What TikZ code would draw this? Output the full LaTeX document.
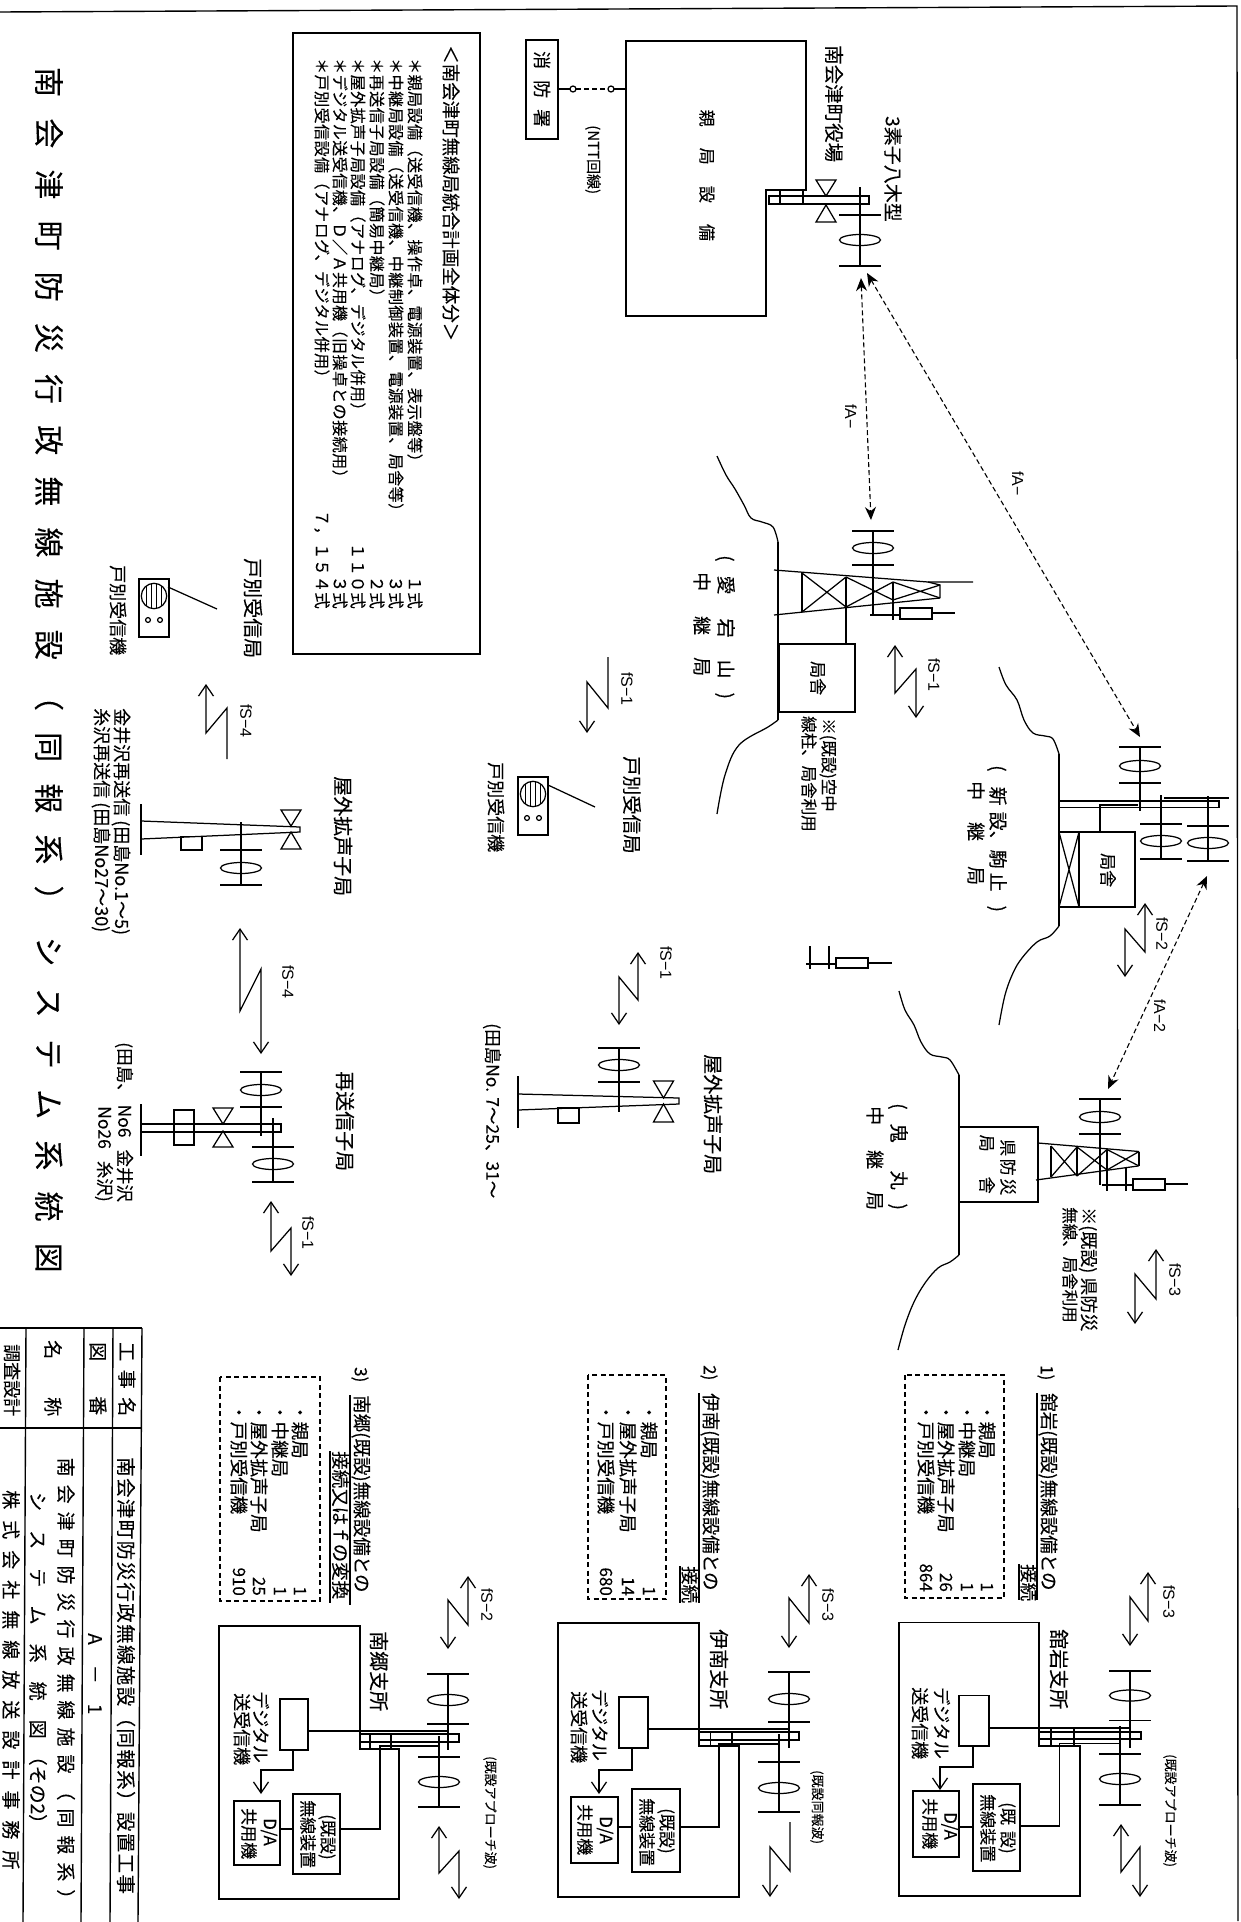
\documentclass[tikz,border=0pt]{standalone}
\usepackage{fontspec}
\setmainfont{Liberation Sans}
\newfontfamily\jp[FakeBold=0.1]{Noto Sans CJK JP}
\usetikzlibrary{arrows.meta}
\tikzset{
  lbl/.style={rotate=-90,anchor=west,inner sep=0pt,text=black},
  lblr/.style={rotate=-90,anchor=east,inner sep=0pt,text=black},
  ln/.style={draw=black,line width=1.25pt},
  hv/.style={draw=black,line width=2pt},
  zz/.style={draw=black,line width=1.25pt,>={Straight Barb[length=11pt,width=15pt]}},
  fa/.style={draw=black,line width=1.1pt,dash pattern=on 5pt off 3pt,{Stealth[length=13pt,width=11pt]}-{Stealth[length=13pt,width=11pt]}},
  dbox/.style={draw=black,line width=1.2pt,dash pattern=on 5pt off 3.5pt}
}
\newcommand\Tx[5]{\node[lbl,font=\jp\fontsize{#4}{#4}\selectfont] (#1) at (#2,#3) {#5};}
\newcommand\Txr[5]{\node[lblr,font=\jp\fontsize{#4}{#4}\selectfont] (#1) at (#2,#3) {#5};}
\newcommand\Lb[4]{\node[lbl,font=\fontsize{16}{16}\selectfont] (#1) at (#2,#3) {#4};}
\newcommand\Lsp[2]{{\addfontfeature{LetterSpace=#1}#2}}
\newcommand\Gp[1]{\hspace{#1pt}}
\newcommand\Yagi[6]{%
  \draw[ln] (#1,#2)--(#1,#3);
  \draw[ln] ({#1-21},#4)--({#1+21},#4);
  \draw[ln] (#1,#5) ellipse[x radius=20.5,y radius=5.5];
  \draw[ln] ({#1-21},#6)--({#1+21},#6);}
\newcommand\Bow[6]{%
  \draw[ln] ({#1-#6},#2)--({#1+#6},#2)--(#1,#3)--cycle;
  \draw[ln] ({#1-#6},#5)--({#1+#6},#5)--(#1,#4)--cycle;}
\newcommand\Zig[7][<->]{\draw[zz,#1] (#2,#3)--(#2,#4)--(#5,#6)--(#5,#7);}
\newcommand\Speaker[2]{%
  \draw[ln] ({#1-15},{#2-17}) rectangle ({#1+15},{#2+41});
  \draw[ln] (#1,#2) circle[radius=12.7];
  \foreach \d/\h in {-7.5/10.2,-2.5/12.4,2.5/12.4,7.5/10.2}{\draw[ln] ({#1+\d},{#2-\h})--({#1+\d},{#2+\h});}
  \draw[ln] ({#1-6},{#2+24}) circle[radius=2.4];
  \draw[ln] ({#1+6},{#2+24}) circle[radius=2.4];}
\begin{document}
\begin{tikzpicture}[x=1pt,y=-1pt]
\useasboundingbox (0,0) rectangle (1240,1922);
\fill[white] (0,0) rectangle (1240,1922);
% frame
\draw[ln,line width=1.4pt] (0,12)--(1237,6)--(1238,1921);
% title
\Tx{title}{49}{67}{30}{\Lsp{70.5}{南会津町防災行政無線施設（同報系）システム系統図}}
% legend
\draw[ln,line width=1.4pt] (293,33) rectangle (480,654);
\Tx{lg0}{451}{45}{18.5}{＜南会津町無線局統合計画全体分＞}
\Tx{lg1}{415}{58}{16}{\Lsp{3}{＊親局設備（送受信機、操作卓、電源装置、表示盤等）}}
\Tx{lg2}{396}{58}{16}{\Lsp{3}{＊中継局設備（送受信機、中継制御装置、電源装置、局舎等）}}
\Tx{lg3}{377}{58}{16}{\Lsp{3}{＊再送信子局設備（簡易中継局）}}
\Tx{lg4}{358}{58}{16}{\Lsp{3}{＊屋外拡声子局設備（アナログ、デジタル併用）}}
\Tx{lg5}{340}{58}{16}{\Lsp{3}{＊デジタル送受信機、Ｄ／Ａ共用機（旧操卓との接続用）}}
\Tx{lg6}{322}{58}{16}{\Lsp{3}{＊戸別受信設備（アナログ、デジタル併用）}}
\Txr{ln1}{415}{609}{16.5}{１式}
\Txr{ln2}{396}{609}{16.5}{３式}
\Txr{ln3}{377}{609}{16.5}{２式}
\Txr{ln4}{358}{609}{16.5}{１１０式}
\Txr{ln5}{340}{609}{16.5}{３式}
\Txr{ln6}{322}{609}{16.5}{７，１５４式}
% fire station and parent station
\draw[ln,line width=1.5pt] (526,40) rectangle (558,139);
\Tx{fire}{542}{51}{18}{\Lsp{61}{消防署}}
\coordinate (c1) at (573,89); \coordinate (c2) at (611,89);
\draw[ln] (558,89)--(570,89) (614,89)--(626,89);
\draw[ln] (c1) circle[radius=3] (c2) circle[radius=3];
\draw[ln,dash pattern=on 5pt off 3pt] (576,89)--(608,89);
\Tx{ntt}{593}{125}{15}{(NTT回線)}
\draw[ln] (626,41)--(806,41)--(806,190)--(766,190)--(766,316)--(626,316)--cycle;
\Tx{oya}{707}{109.5}{17}{\Lsp{124}{親局設備}}
\draw[ln] (769,196) rectangle (869,204);
\draw[ln] (780,190)--(780,204) (803,190)--(803,204);
\Bow{826}{180}{196}{205}{222}{10}
\Yagi{860}{187}{266}{215}{240}{266}
\Tx{tn}{834}{45}{19.5}{南会津町役場}
\Tx{ya}{893}{116}{19}{3素子八木型}
% fA links
\coordinate (a1) at (861,278); \coordinate (a2) at (871,520);
\coordinate (a3) at (867,273); \coordinate (a4) at (1140,737);
\coordinate (a5) at (1207,876); \coordinate (a6) at (1108,1089);
\draw[fa] (a1)--(a2);
\draw[fa] (a3)--(a4);
\draw[fa] (a5)--(a6);
\Lb{fa1}{851}{404}{fA−}
\Lb{fa2}{1018}{471}{fA−}
\Lb{fa3}{1160}{999}{fA−2}
% station Atago
\draw[ln] plot[smooth,tension=0.6] coordinates {(717,456)(726,475)(735,489)(744,505)(751,518)(762,522)(773,527)(778,542)};
\draw[ln] (778,542)--(778,720);
\draw[ln] plot[smooth,tension=0.6] coordinates {(778,720)(768,727)(739,745)(725,775)(717,814)};
\draw[ln] (779,644) rectangle (855,712);
\Tx{k1}{818}{661}{17}{局舎}
\draw[ln] (774,570)--(928,582)--(973,582);
\draw[ln] (774,615)--(940,598);
\draw[ln] (802,573)--(802,612) (846,577)--(846,644) (893,582)--(893,620);
\draw[ln] (928,582)--(940,585)--(940,598);
\draw[ln] (802,573)--(846,607) (802,612)--(846,577) (846,577)--(893,600) (846,607)--(893,582) (893,582)--(940,598) (893,600)--(940,585);
\Yagi{873}{531}{615}{531}{548}{565}
\draw[hv] (870,615)--(900,615);
\draw[ln] (900,608) rectangle (932,619);
\draw[ln] (932,613)--(955,613);
\Tx{s2a}{725}{555}{19}{(\Gp{14}愛\Gp{24}宕\Gp{22}山\Gp{14})}
\Tx{s2b}{702}{572}{19}{中\Gp{25}継\Gp{22}局}
\Tx{s2c}{828}{718}{16.5}{※(既設)空中}
\Tx{s2d}{809}{716}{16.5}{線柱、局舎利用}
\Zig{895}{645}{693}{916}{669}{718}
\Lb{f1}{934}{658}{fS−1}
% station Komado
\draw[ln] plot[smooth,tension=0.6] coordinates {(999,667)(1006,685)(1017,700)(1024,720)(1033,733)(1045,736)(1053,739)(1059,754)};
\draw[ln] (1059,754)--(1059,926);
\draw[ln] plot[smooth,tension=0.6] coordinates {(1059,926)(1050,936)(1037,942)(1022,958)(1013,973)(1005,995)(999,1025)};
\draw[ln] (1059,832) rectangle (1079,907);
\draw[ln] (1059,832)--(1079,907) (1059,907)--(1079,832);
\draw[ln] (1079,832) rectangle (1135,907);
\Tx{k2}{1108}{853}{17}{局舎}
\draw[ln] (1059,801) rectangle (1219,807.5);
\draw[ln] (1100,832)--(1100,805)--(1138,805);
\draw[ln] (1164,798)--(1229,798);
\Yagi{1140}{747}{811}{747}{766}{783}
\Yagi{1161}{795}{859}{824}{841}{859}
\Yagi{1208}{796}{861}{826}{843}{861}
\Tx{s3a}{997}{765}{19}{(\Gp{15}新\Gp{6}設、\Gp{0}駒\Gp{4}止\Gp{14})}
\Tx{s3b}{976}{781}{19}{中\Gp{22}継\Gp{25}局}
\Zig{1145}{903}{952}{1125}{929}{977}
\Lb{f2}{1162}{917}{fS−2}
% small unit
\draw[ln] (810,946)--(810,969) (829,946)--(829,969);
\draw[hv] (806,964)--(836,964);
\draw[ln] (836,958) rectangle (868,968);
\draw[ln] (868,963)--(892,963);
% station Onimaru
\draw[ln] plot[smooth,tension=0.6] coordinates {(899,991)(905,1010)(914,1025)(921,1042)(930,1054)(942,1057)(950,1060)(959,1075)};
\draw[ln] (959,1075)--(959,1255);
\draw[ln] plot[smooth,tension=0.6] coordinates {(959,1255)(950,1262)(938,1268)(925,1283)(914,1302)(905,1325)(898,1350)};
\draw[ln] (959,1127) rectangle (1038,1202);
\Tx{k3a}{1008}{1139}{17}{\Lsp{15}{県防災}}
\Tx{k3b}{987}{1134.5}{17}{\Lsp{147}{局舎}}
\draw[ln] (1038,1143)--(1139,1151.5);
\draw[ln] (1036,1180)--(1138,1166);
\draw[ln] (1051,1146)--(1051,1177) (1077,1147)--(1077,1176) (1107,1149.5)--(1107,1191) (1139,1151.5)--(1139,1166);
\draw[ln] (1051,1146)--(1077,1176) (1051,1177)--(1077,1147) (1077,1147)--(1107,1170) (1077,1176)--(1107,1149.5) (1107,1149.5)--(1139,1166) (1107,1170)--(1139,1151.5);
\Yagi{1100}{1099}{1185}{1099}{1117}{1134}
\draw[ln] (1126,1168)--(1126,1191);
\draw[hv] (1102,1185)--(1133,1185);
\draw[ln] (1133,1179) rectangle (1165,1190);
\draw[ln] (1165,1184)--(1188,1184);
\Tx{s4a}{898}{1103}{19}{(\Gp{14}鬼\Gp{28}丸\Gp{14})}
\Tx{s4b}{875}{1106}{19}{中\Gp{25}継\Gp{22}局}
\Tx{s4c}{1088}{1207}{18}{※(既設) 県防災}
\Tx{s4d}{1070}{1207}{16.5}{無線、局舎利用}
\Zig{1156}{1249}{1299}{1135}{1274}{1324}
\Lb{f3}{1175}{1263}{fS−3}
% household receiver centre
\Speaker{533}{794}
\draw[ln] (548,785)--(595,807);
\Tx{h1}{632}{756}{19.5}{戸別受信局}
\Tx{h2}{496}{762}{18}{戸別受信機}
\Zig[->]{608}{657}{708}{587}{682}{733}
\Lb{f4}{627}{672}{fS−1}
% outdoor loudspeaker centre
\draw[ln,line width=1.6pt] (518,1076)--(518,1128);
\draw[ln] (518,1094)--(679,1098)--(679,1104)--(518,1110);
\draw[ln] (558,1108) rectangle (579,1123);
\Yagi{619}{1048}{1112}{1048}{1065}{1082}
\Bow{663.5}{1081}{1098}{1104}{1122}{10}
\Tx{o1}{713}{1054}{20}{屋外拡声子局}
\Tx{o2}{492}{1023}{17.5}{(田島No. 7～25、31～}
\Zig{638}{952}{1000}{619}{977}{1025}
\Lb{f5}{666}{946}{fS−1}
% household receiver left
\Speaker{154}{596}
\draw[ln] (168,587)--(217,609);
\Tx{h3}{253}{558}{20}{戸別受信局}
\Tx{h4}{118}{565}{18}{戸別受信機}
\Zig[<-]{206}{684}{733}{227}{708}{759}
\Lb{f6}{246}{704}{fS−4}
% outdoor loudspeaker left
\draw[ln,line width=1.6pt] (141,804)--(141,855);
\draw[ln] (141,821)--(300,827)--(300,832)--(141,839);
\draw[ln] (181,836.5) rectangle (202,850);
\Yagi{241}{822}{886}{850}{868}{885}
\Bow{291}{810}{826}{832}{849}{10}
\Tx{o3}{343}{776}{20}{屋外拡声子局}
\Tx{o4}{121}{708}{18}{金井沢再送信 (田島No.1～5)}
\Tx{o5}{101}{708}{18}{糸沢再送信 (田島No27～30)}
\Zig{240}{928}{1011}{261}{969}{1054}
\Lb{f7}{288}{965}{fS−4}
% repeater
\draw[ln,line width=1.6pt] (141,1104)--(141,1156);
\draw[ln] (141,1124) rectangle (281,1132);
\draw[ln] (174,1110) rectangle (194,1145);
\Bow{223}{1108}{1124}{1131}{1147}{10}
\Yagi{261}{1072}{1136}{1072}{1090}{1107}
\Yagi{273}{1118}{1183}{1147}{1164}{1182}
\Tx{r1}{345}{1071}{20}{再送信子局}
\Tx{r2}{124}{1042}{17.5}{(田島、 No6\Gp{12}金井沢}
\Tx{r3}{104}{1106}{17.5}{No26\Gp{12}糸沢)}
\Zig{271}{1201}{1251}{291}{1228}{1276}
\Lb{f8}{308}{1216}{fS−1}
% title block
\draw[ln,line width=1.4pt] (0,1328)--(142,1328) (0,1428)--(141,1428);
\draw[ln,line width=1.4pt] (142,1328)--(138,1922) (113,1328)--(110,1922) (84,1328)--(81,1922) (26,1328)--(23,1922);
\Tx{b1}{127}{1342}{19}{\Lsp{45}{工事名}}
\Tx{b2}{98}{1342}{19}{\Lsp{184}{図番}}
\Tx{b3}{53}{1340}{19}{\Lsp{200}{名称}}
\Tx{b4}{12}{1344}{18}{調査設計}
\Tx{b5}{126}{1457}{19.5}{\Lsp{7}{南会津町防災行政無線施設（同報系）設置工事}}
\Tx{b6}{95}{1633}{19}{A\Gp{20}－\Gp{20}1}
\Tx{b7}{66}{1457.5}{19}{\Lsp{42}{南会津町防災行政無線施設（同報系）}}
\Tx{b8}{38}{1492}{19}{\Lsp{100}{システム系統図}\Gp{8}（その2）}
\Tx{b9}{11}{1490}{19}{\Lsp{58}{株式会社無線放送設計事務所}}
% ---- block 3
\Tx{c3n}{360}{1367}{17}{3)}
\Tx{c3a}{361}{1395}{18.5}{南郷(既設)無線設備との}
\Tx{c3b}{340.5}{1451}{18.5}{接続又はｆの変換}
\draw[ln] (350,1395)--(350,1605) (330,1451)--(330,1603);
\draw[dbox] (220,1377) rectangle (320,1601);
\Tx{c3c}{300}{1403}{18.5}{・親局}
\Tx{c3d}{280}{1403}{18.5}{・中継局}
\Tx{c3e}{259}{1403}{18.5}{・屋外拡声子局}
\Tx{c3f}{239}{1403}{18.5}{・戸別受信機}
\Txr{c3g}{300}{1596}{17}{1}
\Txr{c3h}{280}{1596}{17}{1}
\Txr{c3i}{259}{1596}{17}{25}
\Txr{c3j}{239}{1596}{17}{910}
\Tx{c3k}{379}{1631}{20}{南郷支所}
\draw[ln] (219,1626)--(360,1626)--(360,1749)--(399,1749)--(399,1899)--(219,1899)--cycle;
\draw[ln] (360,1734) rectangle (459,1742);
\draw[ln] (370,1734)--(370,1749) (391,1734)--(391,1749);
\draw[ln] (280,1699) rectangle (308,1750);
\draw[ln] (308,1731)--(447,1731);
\draw[zz,->] (293,1750)--(293,1770)--(261,1770)--(261,1794);
\draw[ln] (234,1801) rectangle (280,1865);
\Tx{c3l}{269}{1818}{17}{D/A}
\Tx{c3m}{249}{1808}{17}{共用機}
\draw[ln] (293,1794) rectangle (340,1874);
\Tx{c3o}{327}{1814}{17}{(既設)}
\Tx{c3p}{308}{1800}{17}{無線装置}
\draw[ln] (280,1829)--(293,1829) (340,1829)--(380,1829)--(380,1746)--(439,1746);
\Tx{c3q}{261}{1691}{18}{デジタル}
\Tx{c3r}{242}{1693}{18}{送受信機}
\Yagi{448}{1674}{1750}{1674}{1700}{1724}
\Yagi{439}{1736}{1807}{1757}{1782}{1807}
\Tx{c3s}{490}{1756}{13}{(既設アプローチ波)}
\Zig{468}{1576}{1625}{448}{1600}{1649}
\Zig{439}{1826}{1873}{459}{1851}{1899}
\Lb{f9}{487}{1588}{fS−2}
% ---- block 2
\Tx{c2n}{709}{1365}{17}{2)}
\Tx{c2a}{710}{1393}{18.5}{伊南(既設)無線設備との}
\Tx{c2b}{690}{1566}{18.5}{接続}
\draw[ln] (699,1393)--(699,1603) (680,1566)--(680,1603);
\draw[dbox] (588,1375) rectangle (666,1599);
\Tx{c2c}{649}{1403}{18.5}{・親局}
\Tx{c2d}{628}{1403}{18.5}{・屋外拡声子局}
\Tx{c2e}{606}{1403}{18.5}{・戸別受信機}
\Txr{c2g}{649}{1596}{17}{1}
\Txr{c2h}{628}{1596}{17}{14}
\Txr{c2i}{606}{1596}{17}{680}
\Tx{c2k}{719}{1629}{20}{伊南支所}
\draw[ln] (558,1623)--(699,1623)--(699,1746)--(739,1746)--(739,1897)--(558,1897)--cycle;
\draw[ln] (699,1732) rectangle (799,1740);
\draw[ln] (710.5,1732)--(710.5,1746) (732,1732)--(732,1746);
\draw[ln] (619,1697) rectangle (648,1748);
\draw[ln] (648,1729)--(789,1729);
\draw[zz,->] (632,1748)--(632,1770)--(599,1770)--(599,1794);
\draw[ln] (571,1797) rectangle (618,1863);
\Tx{c2l}{605}{1816}{17}{D/A}
\Tx{c2m}{585}{1804}{17}{共用機}
\draw[ln] (632,1789) rectangle (680,1872);
\Tx{c2o}{666}{1808}{17}{(既設)}
\Tx{c2p}{647}{1798}{17}{無線装置}
\draw[ln] (618,1827)--(632,1827) (680,1827)--(719,1827)--(719,1744)--(779,1744);
\Tx{c2q}{600}{1689}{18}{デジタル}
\Tx{c2r}{579}{1691}{18}{送受信機}
\Yagi{789}{1672}{1748}{1672}{1699}{1722}
\Yagi{779}{1734}{1812}{1762}{1788}{1812}
\Tx{c2s}{817}{1770}{13}{(既設同報波)}
\Zig{809}{1574}{1623}{789}{1598}{1648}
\Zig[->]{790}{1822}{1871}{770}{1847}{1897}
\Lb{f10}{828}{1588}{fS−3}
% ---- block 1
\Tx{c1n}{1046}{1365}{17}{1)}
\Tx{c1a}{1048}{1393}{18.5}{舘岩(既設)無線設備との}
\Tx{c1b}{1029}{1564}{18.5}{接続}
\draw[ln] (1037,1393)--(1037,1600) (1019,1564)--(1019,1600);
\draw[dbox] (905,1375) rectangle (1004,1598);
\Tx{c1c}{987}{1403}{18.5}{・親局}
\Tx{c1d}{967}{1403}{18.5}{・中継局}
\Tx{c1e}{946}{1403}{18.5}{・屋外拡声子局}
\Tx{c1f}{926}{1403}{18.5}{・戸別受信機}
\Txr{c1g}{987}{1592}{17}{1}
\Txr{c1h}{967}{1592}{17}{1}
\Txr{c1i}{946}{1592}{17}{26}
\Txr{c1j}{926}{1592}{17}{864}
\Tx{c1k}{1059}{1629}{20}{舘岩支所}
\draw[ln] (899,1622.5)--(1039,1622.5)--(1039,1746)--(1080,1746)--(1080,1896)--(899,1896)--cycle;
\draw[ln] (1039,1732) rectangle (1141,1739);
\draw[ln] (1051,1728)--(1051,1746) (1074,1728)--(1074,1746);
\draw[ln] (959,1695.5) rectangle (989,1746);
\draw[ln] (989,1728)--(1130,1728);
\draw[zz,->] (973,1746)--(973,1767)--(940,1767)--(940,1790);
\draw[ln] (913,1791) rectangle (959,1857);
\Tx{c1l}{949.5}{1812}{17}{D/A}
\Tx{c1m}{930}{1798}{17}{共用機}
\draw[ln] (973,1784) rectangle (1020,1871);
\Tx{c1o}{1007}{1802}{17}{(既\Gp{6}設)}
\Tx{c1p}{988}{1794}{17}{無線装置}
\draw[ln] (959,1827)--(973,1827) (1020,1826)--(1059.5,1826)--(1059.5,1743.5)--(1119,1743.5);
\Tx{c1q}{942}{1687}{18}{デジタル}
\Tx{c1r}{920}{1687}{18}{送受信機}
\Yagi{1130}{1671}{1748}{1671}{1695.5}{1720.5}
\Yagi{1120}{1726}{1805}{1754}{1779}{1805}
\Tx{c1s}{1170}{1754}{13}{(既設アプローチ波)}
\Zig{1148}{1572}{1621}{1130}{1597}{1646}
\Zig{1121}{1824}{1872}{1140}{1847}{1897}
\Lb{f11}{1169}{1585}{fS−3}
\end{tikzpicture}
\end{document}
